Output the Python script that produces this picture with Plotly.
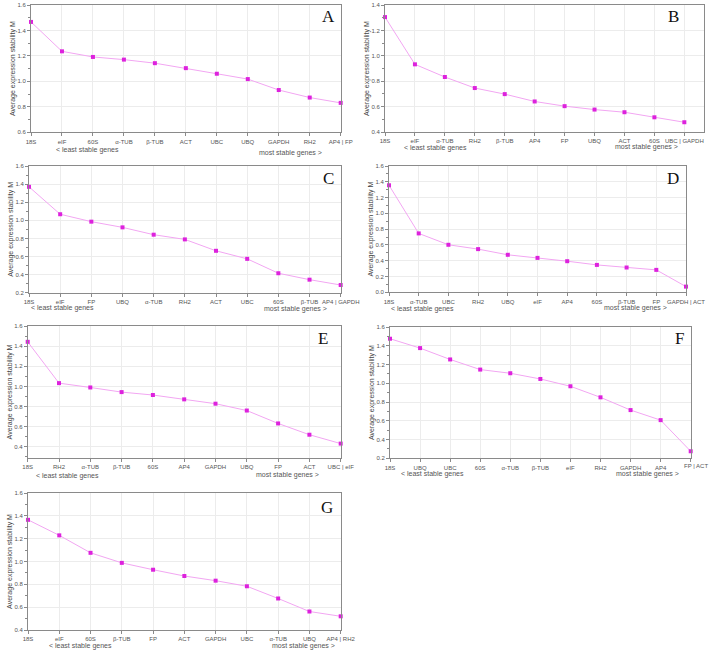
import plotly.graph_objects as go

W, H = 709, 651

genes_A = ["18S", "eIF", "60S", "α-TUB", "β-TUB", "ACT", "UBC", "UBQ", "GAPDH", "RH2", "AP4 | FP"]
vals_A = [1.467, 1.236, 1.192, 1.171, 1.143, 1.104, 1.060, 1.018, 0.932, 0.873, 0.831]

genes_B = ["18S", "eIF", "α-TUB", "RH2", "β-TUB", "AP4", "FP", "UBQ", "ACT", "60S", "UBC | GAPDH"]
vals_B = [1.307, 0.934, 0.834, 0.747, 0.699, 0.641, 0.604, 0.577, 0.556, 0.516, 0.477]

genes_C = ["18S", "eIF", "FP", "UBQ", "α-TUB", "RH2", "ACT", "UBC", "60S", "β-TUB", "AP4 | GAPDH"]
vals_C = [1.370, 1.067, 0.985, 0.922, 0.841, 0.789, 0.663, 0.574, 0.415, 0.344, 0.285]

genes_D = ["18S", "α-TUB", "UBC", "RH2", "UBQ", "eIF", "AP4", "60S", "β-TUB", "FP", "GAPDH | ACT"]
vals_D = [1.356, 0.746, 0.602, 0.547, 0.475, 0.436, 0.394, 0.347, 0.314, 0.284, 0.072]

genes_E = ["18S", "RH2", "α-TUB", "β-TUB", "60S", "AP4", "GAPDH", "UBQ", "FP", "ACT", "UBC | eIF"]
vals_E = [1.443, 1.033, 0.990, 0.944, 0.915, 0.872, 0.829, 0.761, 0.633, 0.521, 0.433]

genes_F = ["18S", "UBQ", "UBC", "60S", "α-TUB", "β-TUB", "eIF", "RH2", "GAPDH", "AP4", "FP | ACT"]
vals_F = [1.475, 1.375, 1.254, 1.146, 1.107, 1.046, 0.968, 0.850, 0.714, 0.607, 0.275]

genes_G = ["18S", "eIF", "60S", "β-TUB", "FP", "ACT", "GAPDH", "UBC", "α-TUB", "UBQ", "AP4 | RH2"]
vals_G = [1.365, 1.229, 1.076, 0.988, 0.928, 0.873, 0.832, 0.783, 0.676, 0.562, 0.520]

panel_labels = ["A", "B", "C", "D", "E", "F", "G"]
y_ranges = [[0.6, 1.6], [0.4, 1.4], [0.2, 1.6], [0.0, 1.6], [0.29, 1.6], [0.2, 1.6], [0.4, 1.6]]
x_range_ends = [10, 10.667, 10, 10, 10, 10, 10]

y_title = "Average expression stability M"
least_txt = "< least stable genes"
most_txt = "most stable genes >"

# layout geometry (pixels): left, right, top, bottom of each plot frame
frames = [
    (31, 340.7, 5, 132.3),
    (385, 704.3, 5.3, 132),
    (29, 340.7, 166, 292.7),
    (389, 686, 166, 292.3),
    (27.7, 340.7, 326, 458),
    (390, 690.7, 327, 458.3),
    (28, 340.7, 493, 630),
]
letter_pos = [(328, 16), (673, 16), (328, 178), (673, 178), (323, 338), (679, 338), (327, 507)]
least_pos = [(87, 150), (435, 148), (62, 308), (422, 309), (67, 476), (432, 474), (80, 646)]
most_pos = [(290, 153), (646, 147), (295, 309), (635, 308), (287, 475), (647, 474), (303, 646)]
# panels whose last tick label is shifted inward (drawn as annotation): index -> x pixel
shifted_last = {5: 696}

genes_all = [genes_A, genes_B, genes_C, genes_D, genes_E, genes_F, genes_G]
vals_all = [vals_A, vals_B, vals_C, vals_D, vals_E, vals_F, vals_G]

LINE_C = "#f2a6f2"
MARK_C = "#dd22dd"
SANS = "Liberation Sans, Arial, sans-serif"
TICK_FONT = dict(family=SANS, size=6, color="#555555")
GRID_C = "#ececec"
FRAME_C = "#8a8a8a"

fig = go.Figure()
annotations = []
layout_axes = {}

def px2x(p):
    return p / W

def py2y(p):
    return 1 - p / H

for i, (genes, vals) in enumerate(zip(genes_all, vals_all)):
    n = i + 1
    xa = "x" if n == 1 else f"x{n}"
    ya = "y" if n == 1 else f"y{n}"
    fig.add_trace(go.Scatter(
        x=genes, y=vals, xaxis=xa, yaxis=ya, mode="lines+markers",
        line=dict(color=LINE_C, width=1),
        marker=dict(symbol="square", size=4, color=MARK_C),
        cliponaxis=False, showlegend=False,
    ))
    l, r, t, b = frames[i]
    xkey = "xaxis" if n == 1 else f"xaxis{n}"
    ykey = "yaxis" if n == 1 else f"yaxis{n}"
    ticktext = list(genes)
    if i in shifted_last:
        ticktext[-1] = ""
        annotations.append(dict(text=genes[-1], x=px2x(shifted_last[i]), y=py2y(b + 8), xref="paper", yref="paper",
                                showarrow=False, xanchor="center", yanchor="middle", font=TICK_FONT))
    layout_axes[xkey] = dict(
        domain=[px2x(l), px2x(r)], anchor=ya, type="category",
        categoryorder="array", categoryarray=genes,
        tickvals=genes, ticktext=ticktext,
        range=[0, x_range_ends[i]], automargin=False,
        showgrid=True, gridcolor=GRID_C, gridwidth=1,
        showline=True, mirror=True, linecolor=FRAME_C, linewidth=1,
        ticks="outside", ticklen=3, tickcolor=FRAME_C,
        tickfont=TICK_FONT, tickangle=0, zeroline=False, fixedrange=True,
    )
    layout_axes[ykey] = dict(
        domain=[py2y(b), py2y(t)], anchor=xa, range=y_ranges[i], automargin=False,
        dtick=0.2, tickformat=".1f",
        showgrid=True, gridcolor=GRID_C, gridwidth=1,
        showline=True, mirror=True, linecolor=FRAME_C, linewidth=1,
        ticks="outside", ticklen=3, tickcolor=FRAME_C,
        minor=dict(ticks="outside", ticklen=2, dtick=0.1, tickcolor=FRAME_C, showgrid=False),
        tickfont=TICK_FONT, zeroline=False, fixedrange=True,
        title=dict(text=y_title, font=dict(family=SANS, size=7, color="#444444"), standoff=0),
    )
    lx, ly = letter_pos[i]
    annotations.append(dict(text=panel_labels[i], x=px2x(lx), y=py2y(ly), xref="paper", yref="paper",
                            showarrow=False, xanchor="center", yanchor="middle",
                            font=dict(family="Liberation Serif, Times New Roman, serif", size=17, color="#111111")))
    ax_, ay_ = least_pos[i]
    annotations.append(dict(text=least_txt, x=px2x(ax_), y=py2y(ay_), xref="paper", yref="paper",
                            showarrow=False, xanchor="center", yanchor="middle",
                            font=dict(family=SANS, size=7, color="#555555")))
    mx, my = most_pos[i]
    annotations.append(dict(text=most_txt, x=px2x(mx), y=py2y(my), xref="paper", yref="paper",
                            showarrow=False, xanchor="center", yanchor="middle",
                            font=dict(family=SANS, size=7, color="#555555")))

fig.update_layout(
    width=W, height=H, margin=dict(l=0, r=0, t=0, b=0, autoexpand=False),
    paper_bgcolor="white", plot_bgcolor="white",
    annotations=annotations, **layout_axes,
)

fig.write_html("out.html", config={"displayModeBar": False},
               post_script="document.body.style.margin='0';document.body.style.overflow='hidden';")
